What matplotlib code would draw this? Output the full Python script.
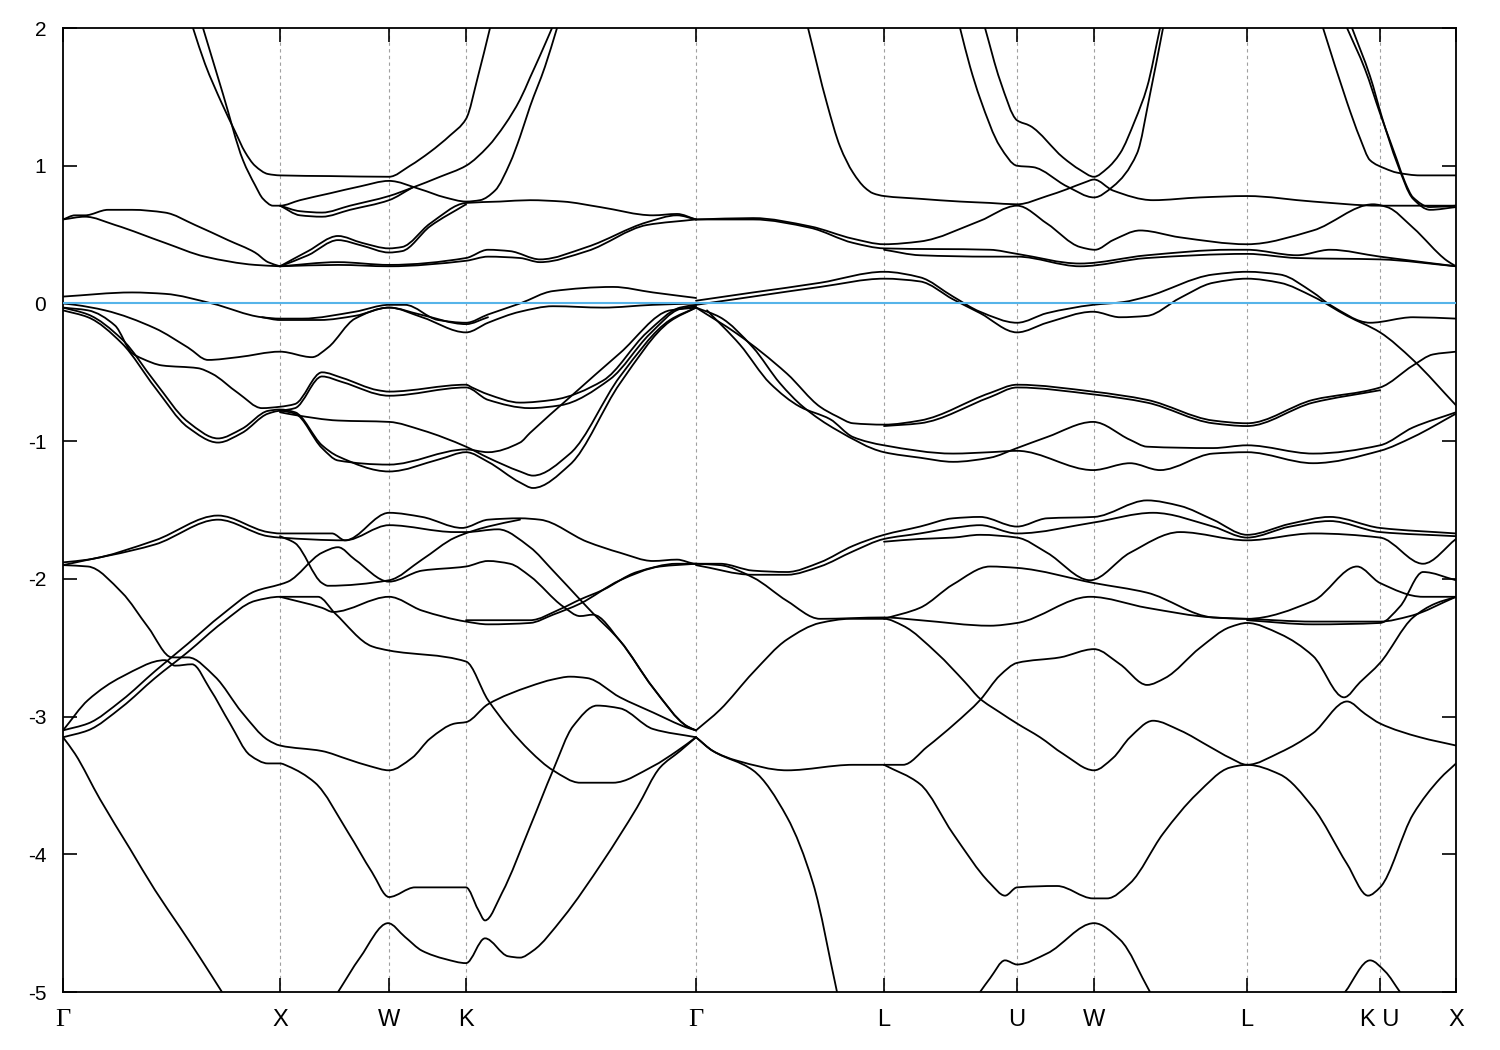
import matplotlib
matplotlib.use("Agg")
import matplotlib.pyplot as plt
from matplotlib.path import Path
from matplotlib.patches import PathPatch

plt.rcParams['axes.unicode_minus'] = False
plt.rcParams['font.family'] = ['Liberation Sans', 'DejaVu Sans']

# ---- axes data ----
k_ticks = [0, 217, 326, 403, 633, 821, 954, 1031, 1184, 1317, 1393]
k_labels = ['Γ', 'X', 'W', 'K', 'Γ', 'L', 'U', 'W', 'L', 'K U', 'X']
e_ticks = [-5, -4, -3, -2, -1, 0, 1, 2]
e_fermi = 0.0

# ---- bands: (k along path [arb. units], E [eV]) ----
cb_a = [(130, 2.00), (142, 1.74), (159, 1.45), (172, 1.25), (182, 1.10), (192, 1.00), (205, 0.94), (217, 0.93),
        (267, 0.925), (326, 0.92), (347, 1.00), (367, 1.10), (387, 1.22), (403, 1.34), (415, 1.65), (427, 2.00)]
cb_b = [(140, 2.00), (160, 1.52), (180, 1.04), (192, 0.86), (200, 0.76), (210, 0.71), (217, 0.71), (237, 0.75),
        (267, 0.80), (297, 0.85), (326, 0.89), (357, 0.83), (382, 0.77), (403, 0.74), (417, 0.75), (432, 0.82),
        (447, 1.02), (457, 1.21), (467, 1.43), (482, 1.72), (494, 2.00)]
cb_c = [(217, 0.71), (237, 0.67), (259, 0.66), (287, 0.71), (326, 0.78), (349, 0.84), (377, 0.92), (403, 1.00),
        (425, 1.14), (442, 1.30), (457, 1.48), (467, 1.64), (477, 1.80), (489, 2.00)]
cb_c2 = [(217, 0.71), (237, 0.64), (259, 0.63), (287, 0.68), (326, 0.75), (349, 0.84)]

m1 = [(0, 0.61), (12, 0.64), (22, 0.64), (45, 0.68), (69, 0.68), (102, 0.66), (132, 0.57), (165, 0.46),
      (192, 0.37), (205, 0.30), (217, 0.27)]
m2 = [(0, 0.61), (22, 0.63), (52, 0.57), (102, 0.44), (142, 0.34), (192, 0.28), (217, 0.27)]
m3 = [(217, 0.27), (245, 0.38), (275, 0.49), (299, 0.44), (326, 0.40), (339, 0.41), (367, 0.58), (403, 0.73),
      (437, 0.74), (467, 0.75), (500, 0.74), (537, 0.70), (590, 0.64), (614, 0.65), (633, 0.61)]
m3b = [(217, 0.27), (245, 0.35), (275, 0.46), (299, 0.42), (326, 0.37), (339, 0.38), (367, 0.56), (403, 0.72)]
m4 = [(217, 0.27), (275, 0.30), (326, 0.28), (403, 0.33), (425, 0.39), (447, 0.38), (477, 0.32), (524, 0.41),
      (584, 0.59), (614, 0.64), (633, 0.61)]
m4b = [(217, 0.27), (275, 0.28), (326, 0.27), (403, 0.31), (425, 0.34), (457, 0.33), (477, 0.30), (524, 0.38),
       (584, 0.57), (633, 0.61)]
m5 = [(633, 0.61), (690, 0.62), (747, 0.56), (790, 0.47), (821, 0.43), (857, 0.45), (917, 0.60), (954, 0.71),
      (984, 0.58), (1017, 0.41), (1032, 0.39), (1050, 0.46), (1077, 0.53), (1117, 0.48), (1184, 0.43),
      (1250, 0.53), (1310, 0.72), (1324, 0.70), (1350, 0.55), (1384, 0.31), (1393, 0.27)]
m6 = [(633, 0.61), (690, 0.61), (747, 0.55), (790, 0.44), (821, 0.40), (927, 0.39), (954, 0.36), (1017, 0.29),
      (1084, 0.35), (1167, 0.39), (1184, 0.39), (1234, 0.35), (1267, 0.39), (1317, 0.34), (1393, 0.27)]
m6b = [(821, 0.39), (857, 0.35), (927, 0.34), (954, 0.34), (1017, 0.27), (1084, 0.33), (1184, 0.36),
       (1234, 0.33), (1317, 0.32), (1393, 0.27)]
m7 = [(745, 2.00), (764, 1.45), (777, 1.14), (790, 0.95), (802, 0.84), (810, 0.80), (821, 0.78), (857, 0.76),
      (897, 0.74), (927, 0.73), (954, 0.72), (984, 0.78), (1004, 0.83), (1022, 0.88), (1031, 0.90), (1050, 0.82),
      (1090, 0.75), (1137, 0.77), (1184, 0.78), (1250, 0.74), (1317, 0.71), (1393, 0.71)]
r1 = [(922, 2.00), (937, 1.62), (954, 1.33), (967, 1.29), (1000, 1.06), (1017, 0.97), (1031, 0.92), (1044, 0.98),
      (1057, 1.09), (1072, 1.33), (1084, 1.57), (1097, 2.00)]
r2 = [(897, 2.00), (907, 1.72), (917, 1.49), (937, 1.14), (954, 1.00), (970, 0.99), (1004, 0.85), (1031, 0.77),
      (1050, 0.85), (1074, 1.09), (1087, 1.52), (1100, 2.00)]
r4 = [(1260, 2.00), (1284, 1.46), (1297, 1.20), (1307, 1.04), (1322, 0.98), (1334, 0.95), (1357, 0.93),
      (1393, 0.93)]
r5 = [(1284, 2.00), (1302, 1.70), (1317, 1.38), (1327, 1.18), (1334, 1.04), (1342, 0.88), (1350, 0.77),
      (1367, 0.70), (1393, 0.71)]
r5b = [(1289, 2.00), (1307, 1.65), (1319, 1.35), (1334, 1.02), (1350, 0.76), (1367, 0.68), (1393, 0.70)]

v1 = [(0, 0.05), (69, 0.08), (102, 0.07), (149, 0.00), (199, -0.10), (217, -0.11), (239, -0.11), (292, -0.06),
      (326, -0.01), (342, -0.01), (375, -0.12), (403, -0.14), (425, -0.08), (457, 0.00), (490, 0.09),
      (550, 0.12), (590, 0.08), (633, 0.04)]
v1b = [(199, -0.10), (217, -0.12), (257, -0.12), (292, -0.09), (326, -0.03), (357, -0.08), (403, -0.15),
       (425, -0.10)]
v2 = [(0, 0.00), (12, -0.01), (42, -0.05), (92, -0.18), (125, -0.32), (145, -0.41), (175, -0.39), (217, -0.35),
      (249, -0.39), (265, -0.32), (292, -0.11), (326, -0.03), (359, -0.10), (403, -0.21), (425, -0.14),
      (457, -0.06), (490, -0.02), (540, -0.03), (590, -0.01), (633, 0.00)]
v3 = [(0, -0.03), (25, -0.05), (52, -0.16), (69, -0.36), (79, -0.40), (99, -0.45), (135, -0.47), (149, -0.51),
      (175, -0.65), (199, -0.76), (217, -0.75), (232, -0.73), (259, -0.50), (279, -0.54), (315, -0.63),
      (326, -0.64), (403, -0.59), (409, -0.61), (425, -0.66), (457, -0.72), (490, -0.70), (540, -0.56),
      (584, -0.21), (617, -0.03), (633, -0.01)]
v3b = [(217, -0.78), (232, -0.76), (259, -0.53), (279, -0.57), (326, -0.67), (403, -0.61), (425, -0.70),
       (467, -0.76), (497, -0.74), (547, -0.55), (587, -0.22), (617, -0.04), (633, -0.02)]
v4 = [(0, -0.05), (25, -0.10), (59, -0.29), (92, -0.61), (125, -0.90), (155, -1.01), (179, -0.94), (205, -0.80),
      (217, -0.78), (232, -0.80), (259, -1.05), (275, -1.14), (326, -1.17), (403, -1.06), (425, -1.08),
      (457, -1.01), (467, -0.94), (507, -0.68), (557, -0.36), (607, -0.05), (633, -0.03)]
v4b = [(0, -0.03), (25, -0.08), (59, -0.26), (92, -0.57), (125, -0.86), (155, -0.98), (179, -0.91),
       (205, -0.78), (217, -0.77), (232, -0.79), (259, -1.03), (275, -1.11), (326, -1.22), (377, -1.13),
       (403, -1.08), (425, -1.15), (457, -1.30), (470, -1.34), (507, -1.17), (557, -0.58), (607, -0.13),
       (633, -0.03)]
v7 = [(217, -0.79), (232, -0.81), (275, -0.85), (326, -0.86), (359, -0.92), (403, -1.04), (425, -1.12),
      (457, -1.22), (470, -1.25), (507, -1.09), (557, -0.53), (607, -0.12), (633, -0.03)]
v8 = [(633, 0.02), (690, 0.08), (757, 0.15), (821, 0.23), (857, 0.19), (890, 0.05), (917, -0.06), (954, -0.14),
      (984, -0.07), (1030, -0.01), (1060, 0.01), (1084, 0.05), (1150, 0.21), (1184, 0.23), (1217, 0.21),
      (1250, 0.08), (1267, -0.01), (1307, -0.14), (1350, -0.10), (1393, -0.11)]
v8b = [(633, -0.01), (690, 0.05), (757, 0.12), (821, 0.18), (857, 0.16), (890, 0.03), (917, -0.07),
       (954, -0.21), (984, -0.14), (1030, -0.06), (1057, -0.10), (1084, -0.09), (1117, 0.04), (1150, 0.15),
       (1184, 0.18), (1217, 0.15), (1250, 0.05), (1284, -0.09), (1317, -0.21), (1350, -0.41), (1393, -0.74)]
v9 = [(633, -0.03), (674, -0.22), (724, -0.51), (757, -0.75), (774, -0.82), (790, -0.87), (821, -0.88),
      (857, -0.85), (927, -0.65), (954, -0.59), (1030, -0.64), (1084, -0.70), (1150, -0.85), (1184, -0.87),
      (1250, -0.70), (1317, -0.61), (1350, -0.45), (1370, -0.37), (1393, -0.35)]
v9b = [(821, -0.89), (857, -0.87), (927, -0.68), (954, -0.61), (1030, -0.66), (1084, -0.72), (1150, -0.87),
       (1184, -0.89), (1250, -0.72), (1317, -0.63)]
v10 = [(633, -0.03), (657, -0.10), (690, -0.32), (717, -0.58), (740, -0.75), (774, -0.92), (821, -1.08),
       (857, -1.12), (890, -1.15), (927, -1.12), (954, -1.05), (984, -0.97), (1030, -0.86), (1067, -0.99),
       (1084, -1.04), (1150, -1.05), (1184, -1.03), (1250, -1.09), (1317, -1.03), (1350, -0.90), (1393, -0.79)]
v11 = [(644, -0.05), (677, -0.30), (707, -0.58), (737, -0.75), (767, -0.84), (790, -0.97), (821, -1.03),
       (890, -1.09), (927, -1.08), (954, -1.07), (1030, -1.21), (1067, -1.16), (1097, -1.21), (1150, -1.09),
       (1184, -1.08), (1250, -1.16), (1317, -1.07), (1350, -0.97), (1393, -0.80)]

w1 = [(0, -1.88), (25, -1.86), (92, -1.72), (155, -1.54), (205, -1.66), (217, -1.67), (269, -1.67), (282, -1.72),
      (326, -1.52), (359, -1.55), (399, -1.63), (425, -1.57), (457, -1.56), (477, -1.57), (524, -1.73),
      (557, -1.81), (590, -1.87), (614, -1.86), (633, -1.89), (657, -1.89), (690, -1.94), (724, -1.95),
      (757, -1.88), (790, -1.76), (821, -1.68), (857, -1.62), (890, -1.56), (917, -1.55), (954, -1.62),
      (984, -1.56), (1031, -1.55), (1084, -1.43), (1117, -1.47), (1150, -1.57), (1184, -1.68), (1227, -1.60),
      (1267, -1.55), (1317, -1.63), (1393, -1.67)]
w1b = [(0, -1.90), (92, -1.75), (155, -1.57), (205, -1.69), (217, -1.70), (282, -1.72), (326, -1.61),
       (392, -1.66), (403, -1.66), (435, -1.64), (467, -1.77), (490, -1.94), (517, -2.15), (530, -2.25),
       (557, -2.45), (590, -2.79), (624, -3.07), (633, -3.10)]
wB = [(633, -1.90), (690, -1.97), (724, -1.97), (757, -1.91), (790, -1.80), (821, -1.71), (857, -1.67),
      (890, -1.63), (917, -1.61), (954, -1.67), (1031, -1.59), (1090, -1.52), (1150, -1.62), (1184, -1.70),
      (1227, -1.62), (1267, -1.58), (1317, -1.66), (1393, -1.69)]
w3 = [(821, -1.73), (857, -1.71), (890, -1.70), (917, -1.68), (954, -1.70), (984, -1.81), (1027, -2.01),
      (1067, -1.81), (1117, -1.66), (1184, -1.72), (1250, -1.67), (1317, -1.70), (1360, -1.89), (1393, -1.71)]
wC = [(821, -2.29), (857, -2.21), (890, -2.04), (927, -1.91), (954, -1.92), (1031, -2.03), (1084, -2.10),
      (1150, -2.28), (1184, -2.29), (1250, -2.16), (1294, -1.91), (1317, -2.03), (1360, -2.13), (1393, -2.13)]
w4 = [(217, -1.69), (232, -1.74), (259, -2.03), (265, -2.05), (326, -2.01), (359, -1.86), (392, -1.70),
      (425, -1.62), (457, -1.57)]
w6 = [(0, -1.90), (25, -1.91), (59, -2.10), (85, -2.35), (109, -2.57), (125, -2.57), (152, -2.71),
      (179, -2.97), (205, -3.17), (217, -3.21), (259, -3.25), (285, -3.31), (307, -3.36), (326, -3.39),
      (349, -3.30), (367, -3.16), (392, -3.05), (403, -3.04), (425, -2.91), (467, -2.78), (490, -2.73),
      (507, -2.71), (524, -2.72), (557, -2.86), (590, -2.97), (624, -3.08), (633, -3.10)]
w7 = [(0, -3.10), (25, -2.88), (59, -2.71), (102, -2.59), (112, -2.63), (129, -2.62), (147, -2.80),
      (167, -3.05), (187, -3.28), (205, -3.34), (217, -3.34), (225, -3.36), (252, -3.48), (285, -3.84),
      (309, -4.13), (326, -4.31), (352, -4.24), (403, -4.24), (415, -4.40), (422, -4.48), (439, -4.28),
      (467, -3.80), (490, -3.39), (510, -3.07), (534, -2.92), (557, -2.94), (590, -3.09), (633, -3.15)]
w8 = [(0, -3.15), (25, -3.10), (59, -2.93), (92, -2.72), (125, -2.53), (159, -2.32), (192, -2.16), (217, -2.13),
      (255, -2.13), (272, -2.25), (309, -2.49), (326, -2.52), (403, -2.60), (425, -2.88), (467, -3.25),
      (490, -3.39), (517, -3.48), (550, -3.48), (590, -3.36), (614, -3.25), (633, -3.15)]
w9 = [(0, -3.10), (25, -3.05), (59, -2.88), (92, -2.67), (125, -2.47), (159, -2.26), (192, -2.09), (217, -2.04),
      (225, -2.02), (259, -1.81), (275, -1.77), (292, -1.86), (326, -2.02), (359, -1.94), (403, -1.91),
      (425, -1.87), (447, -1.89), (467, -1.98), (500, -2.20), (517, -2.27), (530, -2.26), (557, -2.45),
      (590, -2.79), (624, -3.07), (633, -3.10)]
w10 = [(217, -2.13), (259, -2.21), (270, -2.24), (326, -2.13), (359, -2.23), (403, -2.31), (425, -2.33),
       (467, -2.32), (490, -2.26), (517, -2.18), (557, -2.01), (597, -1.91), (633, -1.89)]
w10b = [(403, -2.30), (467, -2.30), (497, -2.22), (517, -2.15), (540, -2.08), (574, -1.95), (614, -1.89),
        (633, -1.89)]
w11 = [(633, -1.89), (657, -1.90), (690, -1.99), (724, -2.16), (757, -2.29), (821, -2.28), (857, -2.30),
       (927, -2.34), (954, -2.32), (1027, -2.13), (1084, -2.21), (1150, -2.28), (1184, -2.29), (1250, -2.31),
       (1317, -2.31), (1347, -2.27), (1393, -2.13)]
w11b = [(1184, -2.30), (1250, -2.33), (1317, -2.32), (1337, -2.20), (1360, -1.95), (1393, -2.01)]
w12 = [(633, -3.10), (657, -2.95), (690, -2.68), (724, -2.44), (757, -2.32), (787, -2.29), (821, -2.29),
       (840, -2.34), (874, -2.54), (902, -2.75), (917, -2.87), (937, -2.97), (954, -3.05), (977, -3.15),
       (1000, -3.27), (1031, -3.39), (1050, -3.30), (1067, -3.15), (1090, -3.03), (1117, -3.10), (1147, -3.22),
       (1167, -3.30), (1184, -3.35), (1217, -3.26), (1250, -3.12), (1284, -2.89), (1302, -2.98), (1317, -3.05),
       (1357, -3.15), (1393, -3.21)]
w13 = [(821, -3.35), (840, -3.35), (864, -3.22), (892, -3.05), (917, -2.88), (937, -2.70), (954, -2.61),
       (997, -2.57), (1031, -2.51), (1057, -2.62), (1084, -2.77), (1102, -2.72), (1137, -2.50), (1167, -2.35),
       (1184, -2.32), (1217, -2.40), (1250, -2.56), (1281, -2.86), (1297, -2.75), (1317, -2.61), (1350, -2.28),
       (1372, -2.18), (1393, -2.13)]
w14 = [(633, -3.15), (650, -3.25), (674, -3.32), (724, -3.39), (790, -3.35), (821, -3.35)]
w15 = [(821, -3.35), (857, -3.49), (890, -3.85), (927, -4.21), (942, -4.30), (954, -4.24), (994, -4.23),
       (1030, -4.32), (1044, -4.32), (1067, -4.21), (1100, -3.85), (1134, -3.56), (1167, -3.37), (1184, -3.35),
       (1217, -3.42), (1250, -3.66), (1284, -4.07), (1305, -4.30), (1317, -4.24), (1350, -3.71), (1377, -3.45),
       (1393, -3.34)]
w16 = [(633, -3.15), (650, -3.25), (690, -3.39), (724, -3.73), (750, -4.21), (774, -5.00)]
w17 = [(0, -3.15), (12, -3.27), (37, -3.60), (67, -3.96), (92, -4.26), (117, -4.53), (137, -4.75), (159, -5.00)]
w18 = [(275, -5.00), (297, -4.75), (325, -4.50), (342, -4.60), (359, -4.70), (382, -4.76), (403, -4.79),
       (422, -4.61), (445, -4.74), (457, -4.75), (470, -4.70), (500, -4.46), (540, -4.05), (574, -3.66),
       (597, -3.37), (617, -3.25), (633, -3.15)]
w19 = [(917, -5.00), (927, -4.90), (942, -4.77), (954, -4.80), (984, -4.72), (1031, -4.50), (1057, -4.62),
       (1087, -5.00)]
w20 = [(1282, -5.00), (1307, -4.77), (1322, -4.85), (1337, -5.00)]

bands = [cb_a, cb_b, cb_c, cb_c2, m1, m2, m3, m3b, m4, m4b, m5, m6, m6b, m7, r1, r2, r4, r5, r5b,
         v1, v1b, v2, v3, v3b, v4, v4b, v7, v8, v8b, v9, v9b, v10, v11,
         w1, w1b, wB, w3, wC, w4, w6, w7, w8, w9, w10, w10b, w11, w11b, w12, w13, w14, w15, w16,
         w17, w18, w19, w20]


def band_path(points):
    """Smooth rendering of a band through its points (monotone cubic Hermite as Bezier segments)."""
    xs = [p[0] for p in points]
    ys = [p[1] for p in points]
    n = len(xs)
    h = [xs[i + 1] - xs[i] for i in range(n - 1)]
    d = [(ys[i + 1] - ys[i]) / h[i] for i in range(n - 1)]
    m = [0.0] * n
    m[0] = d[0]
    m[-1] = d[-1]
    for i in range(1, n - 1):
        if d[i - 1] * d[i] <= 0:
            m[i] = 0.0
        else:
            w1 = 2 * h[i] + h[i - 1]
            w2 = h[i] + 2 * h[i - 1]
            m[i] = (w1 + w2) / (w1 / d[i - 1] + w2 / d[i])
    verts = [(xs[0], ys[0])]
    codes = [Path.MOVETO]
    for i in range(n - 1):
        t = h[i] / 3.0
        verts += [(xs[i] + t, ys[i] + m[i] * t), (xs[i + 1] - t, ys[i + 1] - m[i + 1] * t), (xs[i + 1], ys[i + 1])]
        codes += [Path.CURVE4] * 3
    return Path(verts, codes)


fig = plt.figure(figsize=(15, 10.5), dpi=100)
ax = fig.add_axes([0.042, 0.0552, 0.9287, 0.9181])

for kx in k_ticks[1:-1]:
    ax.axvline(kx, color='#a0a0a0', lw=0.8, ls=(0, (3, 3)), zorder=0)

for band in bands:
    ax.add_patch(PathPatch(band_path(band), facecolor='none', edgecolor='black', lw=1.3,
                           joinstyle='round', capstyle='round', zorder=2))

ax.axhline(e_fermi, color='#56b4e9', lw=1.5, zorder=3)

ax.set_xlim(k_ticks[0], k_ticks[-1])
ax.set_ylim(-5, 2)
ax.set_xticks(k_ticks)
ax.set_xticklabels(k_labels, fontsize=17)
for lab in ax.get_xticklabels():
    if lab.get_text() == 'Γ':
        lab.set_fontfamily(['Liberation Serif', 'DejaVu Serif'])
        lab.set_fontsize(19)
ax.set_yticks(e_ticks)
ax.set_yticklabels([str(v) for v in e_ticks], fontsize=15)
ax.tick_params(axis='both', direction='in', length=10, width=1.2, top=True, right=True)
ax.tick_params(axis='x', pad=12)
ax.tick_params(axis='y', pad=12)
for sp in ax.spines.values():
    sp.set_linewidth(1.3)

fig.savefig('out.png', dpi=100)
